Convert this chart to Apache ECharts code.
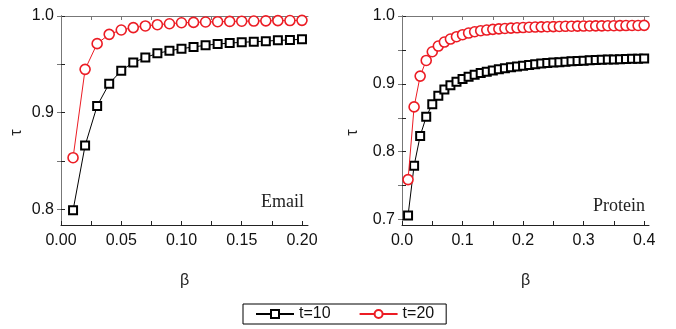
<!DOCTYPE html>
<html>
<head>
<meta charset="utf-8">
<script src="https://cdn.jsdelivr.net/npm/echarts@6/dist/echarts.min.js"></script>
<style>html,body{margin:0;padding:0;background:#fff}#c{width:676px;height:329px}</style>
</head>
<body>
<div id="c"></div>
<script>
// ---- data ----
var betaEmail = [0.01,0.02,0.03,0.04,0.05,0.06,0.07,0.08,0.09,0.10,0.11,0.12,0.13,0.14,0.15,0.16,0.17,0.18,0.19,0.20];
var emailT10 = [0.799,0.866,0.907,0.930,0.9434,0.952,0.957,0.9614,0.964,0.9662,0.968,0.9697,0.971,0.972,0.9728,0.9734,0.974,0.9748,0.9752,0.976];
var emailT20 = [0.8534,0.9448,0.9714,0.981,0.9855,0.988,0.9897,0.991,0.992,0.993,0.9934,0.9938,0.9941,0.9944,0.9946,0.9948,0.995,0.9952,0.9953,0.9955];

var betaProtein = [0.01,0.02,0.03,0.04,0.05,0.06,0.07,0.08,0.09,0.10,0.11,0.12,0.13,0.14,0.15,0.16,0.17,0.18,0.19,0.20,
                   0.21,0.22,0.23,0.24,0.25,0.26,0.27,0.28,0.29,0.30,0.31,0.32,0.33,0.34,0.35,0.36,0.37,0.38,0.39,0.40];
var proteinT10 = [0.706,0.7794,0.8232,0.8513,0.870,0.8823,0.8917,0.898,0.903,0.907,0.9105,0.9134,0.9158,0.9178,0.9197,0.9214,0.9229,0.9243,0.9256,0.9268,
                  0.9279,0.9289,0.9298,0.9306,0.9313,0.932,0.9326,0.9332,0.9337,0.9342,0.9346,0.935,0.9354,0.9357,0.936,0.9363,0.9366,0.9368,0.9371,0.9373];
var proteinT20 = [0.7588,0.866,0.9114,0.9345,0.9473,0.9557,0.9616,0.966,0.9695,0.9724,0.9749,0.9768,0.9783,0.9793,0.9803,0.981,0.9816,0.9821,0.9826,0.983,
                  0.9834,0.9837,0.984,0.9842,0.9844,0.9846,0.9848,0.985,0.9851,0.9852,0.9853,0.9854,0.9855,0.9856,0.9857,0.9858,0.9859,0.986,0.9861,0.9862];

var emailXTicks = [0,0.025,0.05,0.075,0.10,0.125,0.15,0.175,0.20];
var emailXLabels = [0,0.05,0.10,0.15,0.20];
var emailYTicks = [0.8,0.85,0.9,0.95,1.0];
var emailYLabels = [0.8,0.9,1.0];
var proteinXTicks = [0,0.05,0.1,0.15,0.2,0.25,0.3,0.35,0.4];
var proteinXLabels = [0,0.1,0.2,0.3,0.4];
var proteinYTicks = [0.7,0.75,0.8,0.85,0.9,0.95,1.0];
var proteinYLabels = [0.7,0.8,0.9,1.0];
var seriesNames = ['t=10','t=20'];

function zip(xs, ys){ return xs.map(function(x,i){return [x, ys[i]];}); }

var FONT = 'Liberation Sans, Arial, sans-serif';
var BLACK = '#000';
var RED = '#ec1c24';

function xAxes(gi, max, ticks, labels, dec){
  return [{
    gridIndex: gi, type: 'value', min: 0, max: max, position: 'bottom',
    name: 'β', nameLocation: 'middle', nameGap: 48,
    nameTextStyle: {fontFamily: FONT, fontSize: 16, color: '#222'},
    axisLine: {show: true, lineStyle: {color: '#222', width: 1}},
    axisTick: {show: true, inside: true, length: 4, customValues: ticks, lineStyle: {color: '#222'}},
    axisLabel: {customValues: labels, margin: 8, fontFamily: FONT, fontSize: 16, color: '#111',
      formatter: function(v){return v.toFixed(dec);}},
    splitLine: {show: false}
  },{
    gridIndex: gi, type: 'value', min: 0, max: max, position: 'top',
    axisLine: {show: true, lineStyle: {color: '#777', width: 1}},
    axisTick: {show: true, inside: true, length: 4, customValues: ticks, lineStyle: {color: '#777'}},
    axisLabel: {show: false}, splitLine: {show: false}
  }];
}
function yAxes(gi, min, ticks, labels, gap){
  return [{
    gridIndex: gi, type: 'value', min: min, max: 1.0, position: 'left',
    name: 'τ', nameLocation: 'middle', nameGap: gap, nameRotate: 90,
    nameTextStyle: {fontFamily: FONT, fontSize: 16, color: '#222', padding: [0, 24, 0, 0]},
    axisLine: {show: true, lineStyle: {color: '#222', width: 1}},
    axisTick: {show: true, inside: true, length: 4, customValues: ticks, lineStyle: {color: '#222'}},
    axisLabel: {customValues: labels, margin: 7, fontFamily: FONT, fontSize: 16, color: '#111',
      formatter: function(v){return v.toFixed(1);}},
    splitLine: {show: false}
  },{
    gridIndex: gi, type: 'value', min: min, max: 1.0, position: 'right',
    axisLine: {show: true, lineStyle: {color: '#777', width: 1}},
    axisTick: {show: true, inside: true, length: 4, customValues: ticks, lineStyle: {color: '#777'}},
    axisLabel: {show: false}, splitLine: {show: false}
  }];
}

function blackSeries(name, xi, yi, data){
  return {name: name, type: 'line', xAxisIndex: xi, yAxisIndex: yi, data: data,
    symbol: 'rect', symbolSize: 8, showAllSymbol: true,
    lineStyle: {color: BLACK, width: 1},
    itemStyle: {color: '#fff', borderColor: BLACK, borderWidth: 2},
    emphasis: {disabled: true}, animation: false, z: 2};
}
function redSeries(name, xi, yi, data){
  return {name: name, type: 'line', xAxisIndex: xi, yAxisIndex: yi, data: data,
    symbol: 'circle', symbolSize: 10, showAllSymbol: true,
    lineStyle: {color: RED, width: 1},
    itemStyle: {color: '#fff', borderColor: RED, borderWidth: 1.6},
    emphasis: {disabled: true}, animation: false, z: 3};
}

var chart = echarts.init(document.getElementById('c'), null, {renderer: 'canvas'});
chart.setOption({
  backgroundColor: '#fff',
  animation: false,
  grid: [
    {left: 61, right: 368, top: 16, bottom: 104},
    {left: 402, right: 27, top: 16, bottom: 104}
  ],
  xAxis: xAxes(0, 0.205, emailXTicks, emailXLabels, 2).concat(xAxes(1, 0.408, proteinXTicks, proteinXLabels, 1)),
  yAxis: yAxes(0, 0.7838, emailYTicks, emailYLabels, 36).concat(yAxes(1, 0.6919, proteinYTicks, proteinYLabels, 41)),
  legend: {
    data: seriesNames, left: 243, top: 304,
    orient: 'horizontal', itemWidth: 38, itemHeight: 10, itemGap: 28,
    padding: [2, 12, 2, 12],
    borderColor: '#000', borderWidth: 1,
    textStyle: {fontFamily: FONT, fontSize: 16, color: '#111'},
    selectedMode: false
  },
  graphic: [
    {type: 'text', right: 372, top: 193, style: {text: 'Email', font: '18px "Liberation Serif", "Times New Roman", serif', fill: '#222'}},
    {type: 'text', right: 31, top: 197, style: {text: 'Protein', font: '18px "Liberation Serif", "Times New Roman", serif', fill: '#222'}}
  ],
  series: [
    blackSeries(seriesNames[0], 0, 0, zip(betaEmail, emailT10)),
    redSeries(seriesNames[1], 0, 0, zip(betaEmail, emailT20)),
    blackSeries(seriesNames[0], 2, 2, zip(betaProtein, proteinT10)),
    redSeries(seriesNames[1], 2, 2, zip(betaProtein, proteinT20))
  ]
});
</script>
</body>
</html>
